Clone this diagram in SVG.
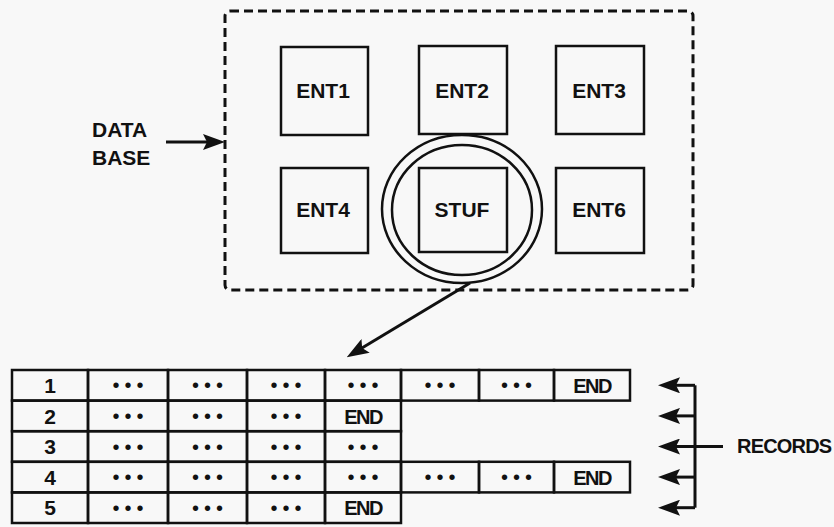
<svg xmlns="http://www.w3.org/2000/svg" width="834" height="527" viewBox="0 0 834 527">
<defs>
<style>
.bg{fill:#f8f8f8}
.box{fill:none;stroke:#111;stroke-width:2.5}
.dash{fill:none;stroke:#111;stroke-width:3;stroke-dasharray:9 5}
.ring{fill:none;stroke:#111;stroke-width:2.5}
.cell{fill:none;stroke:#111;stroke-width:2.5}
.lbl{font-family:"Liberation Sans",Arial,sans-serif;font-weight:bold;font-size:21px;fill:#111;text-anchor:middle}
.side{font-family:"Liberation Sans",Arial,sans-serif;font-weight:bold;font-size:21px;fill:#111}
.num{font-family:"Liberation Sans",Arial,sans-serif;font-weight:bold;font-size:21px;fill:#111;text-anchor:middle}
.end{font-family:"Liberation Sans",Arial,sans-serif;font-weight:bold;font-size:20px;letter-spacing:-1.5px;fill:#111;text-anchor:middle}
.dots{font-family:"Liberation Sans",Arial,sans-serif;font-size:20px;letter-spacing:5px;fill:#111;text-anchor:middle}
.rec{font-family:"Liberation Sans",Arial,sans-serif;font-weight:bold;font-size:20px;letter-spacing:-0.8px;fill:#111}
.conn{fill:none;stroke:#111;stroke-width:3}
</style>
<marker id="ah" viewBox="0 0 22 16" refX="12" refY="8" markerWidth="22" markerHeight="16" markerUnits="userSpaceOnUse" orient="auto">
<path d="M0,0 L22,8 L0,16 L4,8 z" fill="#111"/>
</marker>
</defs>
<rect class="bg" x="0" y="0" width="834" height="527"/>

<g id="database">
<rect class="dash" x="225" y="11" width="468" height="279" rx="5"/>
</g>

<g id="data-base-label">
<text class="side" x="92" y="137">DATA</text>
<text class="side" x="92" y="165">BASE</text>
</g>

<g id="ent1"><rect class="box" x="281" y="47" width="87" height="88"/><text class="lbl" x="323" y="98">ENT1</text></g>
<g id="ent2"><rect class="box" x="419" y="46" width="88" height="88"/><text class="lbl" x="462" y="98">ENT2</text></g>
<g id="ent3"><rect class="box" x="556" y="46" width="88" height="88"/><text class="lbl" x="599" y="98">ENT3</text></g>
<g id="ent4"><rect class="box" x="281" y="168" width="87" height="85"/><text class="lbl" x="323" y="217">ENT4</text></g>
<g id="stuf">
<ellipse class="ring" cx="462" cy="209" rx="80" ry="74"/>
<ellipse class="ring" cx="462" cy="210" rx="70" ry="65"/>
<rect class="box" x="419" y="168" width="88" height="84"/><text class="lbl" x="462" y="217">STUF</text>
</g>
<g id="ent6"><rect class="box" x="556" y="168" width="88" height="85"/><text class="lbl" x="599" y="217">ENT6</text></g>

<g id="records-table">
<g id="row1">
<rect class="cell" x="12" y="370" width="76" height="30.6"/>
<rect class="cell" x="88" y="370" width="80" height="30.6"/>
<rect class="cell" x="168" y="370" width="79" height="30.6"/>
<rect class="cell" x="247" y="370" width="78" height="30.6"/>
<rect class="cell" x="325" y="370" width="76" height="30.6"/>
<rect class="cell" x="401" y="370" width="78" height="30.6"/>
<rect class="cell" x="479" y="370" width="75" height="30.6"/>
<rect class="cell" x="554" y="370" width="76" height="30.6"/>
<text class="num" x="50" y="393">1</text>
<text class="dots" x="130.5" y="392">•••</text>
<text class="dots" x="210" y="392">•••</text>
<text class="dots" x="288.5" y="392">•••</text>
<text class="dots" x="365.5" y="392">•••</text>
<text class="dots" x="442.5" y="392">•••</text>
<text class="dots" x="519" y="392">•••</text>
<text class="end" x="592" y="393">END</text>
</g>
<g id="row2">
<rect class="cell" x="12" y="400.6" width="76" height="30.6"/>
<rect class="cell" x="88" y="400.6" width="80" height="30.6"/>
<rect class="cell" x="168" y="400.6" width="79" height="30.6"/>
<rect class="cell" x="247" y="400.6" width="78" height="30.6"/>
<rect class="cell" x="325" y="400.6" width="76" height="30.6"/>
<text class="num" x="50" y="423.5">2</text>
<text class="dots" x="130.5" y="423">•••</text>
<text class="dots" x="210" y="423">•••</text>
<text class="dots" x="288.5" y="423">•••</text>
<text class="end" x="363" y="423.5">END</text>
</g>
<g id="row3">
<rect class="cell" x="12" y="431.2" width="76" height="30.6"/>
<rect class="cell" x="88" y="431.2" width="80" height="30.6"/>
<rect class="cell" x="168" y="431.2" width="79" height="30.6"/>
<rect class="cell" x="247" y="431.2" width="78" height="30.6"/>
<rect class="cell" x="325" y="431.2" width="76" height="30.6"/>
<text class="num" x="50" y="454">3</text>
<text class="dots" x="130.5" y="453.5">•••</text>
<text class="dots" x="210" y="453.5">•••</text>
<text class="dots" x="288.5" y="453.5">•••</text>
<text class="dots" x="365.5" y="453.5">•••</text>
</g>
<g id="row4">
<rect class="cell" x="12" y="461.8" width="76" height="30.6"/>
<rect class="cell" x="88" y="461.8" width="80" height="30.6"/>
<rect class="cell" x="168" y="461.8" width="79" height="30.6"/>
<rect class="cell" x="247" y="461.8" width="78" height="30.6"/>
<rect class="cell" x="325" y="461.8" width="76" height="30.6"/>
<rect class="cell" x="401" y="461.8" width="78" height="30.6"/>
<rect class="cell" x="479" y="461.8" width="75" height="30.6"/>
<rect class="cell" x="554" y="461.8" width="76" height="30.6"/>
<text class="num" x="50" y="484.5">4</text>
<text class="dots" x="130.5" y="484">•••</text>
<text class="dots" x="210" y="484">•••</text>
<text class="dots" x="288.5" y="484">•••</text>
<text class="dots" x="365.5" y="484">•••</text>
<text class="dots" x="442.5" y="484">•••</text>
<text class="dots" x="519" y="484">•••</text>
<text class="end" x="592" y="484.5">END</text>
</g>
<g id="row5">
<rect class="cell" x="12" y="492.4" width="76" height="30.6"/>
<rect class="cell" x="88" y="492.4" width="80" height="30.6"/>
<rect class="cell" x="168" y="492.4" width="79" height="30.6"/>
<rect class="cell" x="247" y="492.4" width="78" height="30.6"/>
<rect class="cell" x="325" y="492.4" width="76" height="30.6"/>
<text class="num" x="50" y="515">5</text>
<text class="dots" x="130.5" y="514.5">•••</text>
<text class="dots" x="210" y="514.5">•••</text>
<text class="dots" x="288.5" y="514.5">•••</text>
<text class="end" x="363" y="515">END</text>
</g>
</g>

<g id="records-label">
<text class="rec" x="737" y="453">RECORDS</text>
</g>

<g id="connectors">
<line class="conn" x1="166" y1="142" x2="215" y2="142" marker-end="url(#ah)"/>
<line class="conn" x1="470" y1="283" x2="355.3" y2="352" marker-end="url(#ah)"/>
<path class="conn" d="M695,385.3 L695,507.7"/>
<line class="conn" x1="695" y1="385.3" x2="668" y2="385.3" marker-end="url(#ah)"/>
<line class="conn" x1="695" y1="415.9" x2="668" y2="415.9" marker-end="url(#ah)"/>
<line class="conn" x1="723" y1="446.5" x2="668" y2="446.5" marker-end="url(#ah)"/>
<line class="conn" x1="695" y1="477.1" x2="668" y2="477.1" marker-end="url(#ah)"/>
<line class="conn" x1="695" y1="507.7" x2="668" y2="507.7" marker-end="url(#ah)"/>
</g>
</svg>
